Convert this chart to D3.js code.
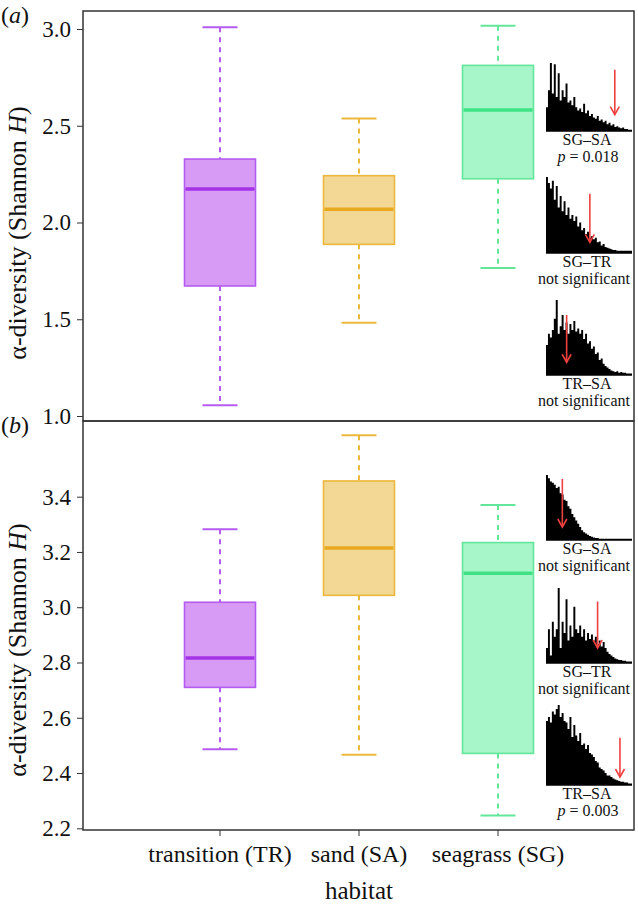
<!DOCTYPE html>
<html><head><meta charset="utf-8">
<script src="https://cdn.jsdelivr.net/npm/d3@7"></script>
<style>
html,body{margin:0;padding:0;background:#fff;}
svg{display:block;font-family:"Liberation Serif","Times New Roman",serif;}
</style></head>
<body><svg id="c" width="638" height="904"></svg>
<script>
// ---------- data ----------
const categories = ["transition (TR)", "sand (SA)", "seagrass (SG)"];
const groupKeys = ["TR", "SA", "SG"];
// [lower whisker, Q1, median, Q3, upper whisker]
const panelA_TR = [1.055, 1.672, 2.173, 2.328, 3.009];
const panelA_SA = [1.482, 1.887, 2.068, 2.242, 2.538];
const panelA_SG = [1.765, 2.226, 2.581, 2.812, 3.017];
const panelB_TR = [2.486, 2.710, 2.816, 3.018, 3.282];
const panelB_SA = [2.466, 3.043, 3.214, 3.457, 3.622];
const panelB_SG = [2.246, 2.471, 3.123, 3.234, 3.370];
const ticksA = [1.0, 1.5, 2.0, 2.5, 3.0];
const ticksB = [2.2, 2.4, 2.6, 2.8, 3.0, 3.2, 3.4];
const comparisons = ["SG\u2013SA", "SG\u2013TR", "TR\u2013SA"];
const resultA = ["0.018", "not significant", "not significant"];
const resultB = ["not significant", "not significant", "0.003"];
// null-distribution histograms (relative bar heights)
const histA1 = [0.35,0.6,1.0,0.55,0.98,0.5,0.85,0.45,0.6,0.5,0.7,0.42,0.45,0.38,0.5,0.35,0.3,0.33,0.28,0.4,0.26,0.3,0.22,0.25,0.2,0.18,0.22,0.15,0.17,0.13,0.15,0.1,0.12,0.08,0.1,0.06,0.07,0.05,0.04,0.05,0.03,0.03,0.02,0.02];
const histA2 = [1.0,0.92,0.85,0.95,0.7,0.88,0.6,0.75,0.55,0.68,0.5,0.6,0.45,0.5,0.42,0.48,0.35,0.4,0.3,0.33,0.25,0.28,0.2,0.22,0.18,0.2,0.14,0.15,0.1,0.12,0.08,0.07,0.06,0.05,0.04,0.04,0.03,0.03,0.03,0.03,0.03,0.03,0.03,0.03];
const histA3 = [0.4,0.55,0.5,0.6,0.75,1.0,0.55,0.65,0.8,0.6,0.7,0.55,0.68,0.6,0.72,0.58,0.62,0.55,0.6,0.48,0.55,0.42,0.45,0.35,0.38,0.28,0.3,0.2,0.22,0.15,0.12,0.1,0.08,0.06,0.05,0.04,0.05,0.03,0.04,0.03,0.03,0.02,0.02,0.02];
const histB1 = [1.0,0.95,0.9,0.88,0.85,0.8,0.82,0.72,0.7,0.62,0.6,0.52,0.48,0.4,0.35,0.3,0.25,0.2,0.15,0.12,0.1,0.08,0.06,0.05,0.04,0.03,0.03,0.02,0.02,0.02,0.02,0.02,0.02,0.02,0.02,0.02,0.02,0.02,0.02,0.02,0.02,0.02,0.02,0.02];
const histB2 = [0.2,0.45,0.1,0.55,0.35,0.45,1.0,0.2,0.55,0.4,0.85,0.3,0.5,0.35,0.75,0.45,0.4,0.5,0.35,0.45,0.3,0.4,0.32,0.38,0.3,0.35,0.25,0.3,0.22,0.28,0.2,0.15,0.12,0.1,0.08,0.06,0.05,0.04,0.04,0.03,0.03,0.02,0.02,0.02];
const histB3 = [0.8,0.85,0.78,0.92,0.88,0.95,1.0,0.85,0.9,0.8,0.78,0.7,0.85,0.6,0.75,0.62,0.55,0.65,0.5,0.52,0.45,0.5,0.4,0.38,0.35,0.3,0.28,0.22,0.2,0.18,0.15,0.12,0.12,0.1,0.08,0.07,0.06,0.05,0.04,0.04,0.03,0.03,0.02,0.02];
// observed statistic position (fraction of histogram range) and arrow extent (fraction of height)
const observedA = [0.80, 0.51, 0.24];
const observedB = [0.19, 0.60, 0.86];
const arrowTopA = [0.90, 0.78, 0.80], arrowTipA = [0.24, 0.14, 0.17];
const arrowTopB = [0.94, 0.82, 0.59], arrowTipB = [0.20, 0.20, 0.10];

// ---------- styles ----------
const fills   = {TR:"#d79bf5", SA:"#f3d795", SG:"#a7f6c9"};
const strokes = {TR:"#b45cf0", SA:"#ebb73d", SG:"#62e69a"};
const medians = {TR:"#a433e6", SA:"#e8a91f", SG:"#3ee284"};

const svg = d3.select("#c");
const L = 83, R = 634;
const x = d3.scaleBand().domain(categories).range([150.5, 567.5]).padding(0);
const boxW = 71, capW = 35;

function panel(top, bottom, yDomain, yRange, ticks, stats, label, titleY, hists, obs, aTop, aTip, results, histPos) {
  const y = d3.scaleLinear().domain(yDomain).range(yRange);
  const g = svg.append("g");
  const ax = d3.axisLeft(y).tickValues(ticks).tickFormat(d3.format(".1f")).tickSize(6).tickPadding(6);
  const axg = g.append("g").attr("transform", `translate(${L},0)`).call(ax);
  axg.select(".domain").remove();
  axg.selectAll(".tick line").attr("stroke", "#333").attr("stroke-width", 1);
  axg.selectAll(".tick text").attr("font-family", "Liberation Serif").attr("font-size", 23).attr("fill", "#111");
  categories.forEach((c, i) => {
    const k = groupKeys[i], s = stats[i], cx = x(c) + x.bandwidth() / 2;
    const bg = g.append("g");
    bg.append("line").attr("x1", cx).attr("x2", cx).attr("y1", y(s[4])).attr("y2", y(s[3]))
      .attr("stroke", strokes[k]).attr("stroke-width", 2).attr("stroke-dasharray", "5,5");
    bg.append("line").attr("x1", cx).attr("x2", cx).attr("y1", y(s[1])).attr("y2", y(s[0]))
      .attr("stroke", strokes[k]).attr("stroke-width", 2).attr("stroke-dasharray", "5,5");
    [s[0], s[4]].forEach(v => bg.append("line").attr("x1", cx - capW/2).attr("x2", cx + capW/2)
      .attr("y1", y(v)).attr("y2", y(v)).attr("stroke", strokes[k]).attr("stroke-width", 2));
    bg.append("rect").attr("x", cx - boxW/2).attr("width", boxW).attr("y", y(s[3])).attr("height", y(s[1]) - y(s[3]))
      .attr("fill", fills[k]).attr("stroke", strokes[k]).attr("stroke-width", 1.6);
    bg.append("line").attr("x1", cx - boxW/2 + 1).attr("x2", cx + boxW/2 - 1).attr("y1", y(s[2])).attr("y2", y(s[2]))
      .attr("stroke", medians[k]).attr("stroke-width", 3.5);
  });
  const hx0 = 546, hx1 = 632;
  hists.forEach((h, j) => {
    const [hTop, hBase] = histPos[j];
    const hx = d3.scaleLinear().domain([0, h.length]).range([hx0, hx1]);
    const hy = d3.scaleLinear().domain([0, 1]).range([hBase, hTop]);
    const pts = h.map((v, i) => [i, v]).concat([[h.length, h[h.length - 1]]]);
    g.append("path").datum(pts)
      .attr("d", d3.area().curve(d3.curveStepAfter).x(d => hx(d[0])).y0(hBase).y1(d => hy(d[1])))
      .attr("fill", "#000");
    g.append("line").attr("x1", hx0).attr("x2", hx1).attr("y1", hBase).attr("y2", hBase).attr("stroke", "#000").attr("stroke-width", 1.5);
    const axp = hx(obs[j] * h.length), yt = hy(aTop[j]), yb = hy(aTip[j]);
    g.append("line").attr("x1", axp).attr("x2", axp).attr("y1", yt).attr("y2", yb).attr("stroke", "#f04040").attr("stroke-width", 1.6);
    g.append("path").attr("d", `M${axp-4.5},${yb-8}L${axp},${yb}L${axp+4.5},${yb-8}`)
      .attr("fill", "none").attr("stroke", "#f04040").attr("stroke-width", 1.6);
    g.append("text").attr("x", 587).attr("y", hBase + 14).attr("text-anchor", "middle")
      .attr("font-size", 16).attr("fill", "#111").text(comparisons[j]);
    const t2 = g.append("text").attr("x", results[j].startsWith("not") ? 584 : 588).attr("y", hBase + 31)
      .attr("text-anchor", "middle").attr("font-size", 16).attr("fill", "#111");
    if (results[j].startsWith("not")) t2.text(results[j]);
    else { t2.append("tspan").attr("font-style", "italic").text("p"); t2.append("tspan").text(" = " + results[j]); }
  });
  const tt = g.append("text").attr("transform", `translate(26,${titleY}) rotate(-90)`).attr("text-anchor", "middle")
    .attr("font-size", 26).attr("fill", "#111");
  tt.append("tspan").text("\u03b1-diversity (Shannon ");
  tt.append("tspan").attr("font-style", "italic").text("H");
  tt.append("tspan").text(")");
  const pl = g.append("text").attr("x", 1).attr("y", top + 12).attr("font-size", 24).attr("fill", "#111");
  pl.append("tspan").text("(");
  pl.append("tspan").attr("font-style", "italic").text(label);
  pl.append("tspan").text(")");
}

panel(11, 421, [1.0, 3.0], [416, 29], ticksA, [panelA_TR, panelA_SA, panelA_SG], "a", 233,
  [histA1, histA2, histA3], observedA, arrowTopA, arrowTipA, resultA, [[63,131],[177,253],[300,375]]);
panel(421, 830, [2.2, 3.4], [828.3, 496.7], ticksB, [panelB_TR, panelB_SA, panelB_SG], "b", 650,
  [histB1, histB2, histB3], observedB, arrowTopB, arrowTipB, resultB, [[475,540],[588,663],[705,785]]);

svg.append("rect").attr("x", L).attr("y", 11).attr("width", R - L).attr("height", 410).attr("fill", "none").attr("stroke", "#333").attr("stroke-width", 1.5);
svg.append("rect").attr("x", L).attr("y", 421).attr("width", R - L).attr("height", 409).attr("fill", "none").attr("stroke", "#333").attr("stroke-width", 1.5);

const xa = svg.append("g").attr("transform", "translate(0,830)")
  .call(d3.axisBottom(x).tickSize(6).tickPadding(9));
xa.select(".domain").remove();
xa.selectAll(".tick line").attr("stroke", "#333");
xa.selectAll(".tick text").attr("font-family", "Liberation Serif").attr("font-size", 24).attr("fill", "#111");
svg.append("text").attr("x", 359).attr("y", 899).attr("text-anchor", "middle").attr("font-size", 25).attr("fill", "#111").text("habitat");
</script></body></html>
